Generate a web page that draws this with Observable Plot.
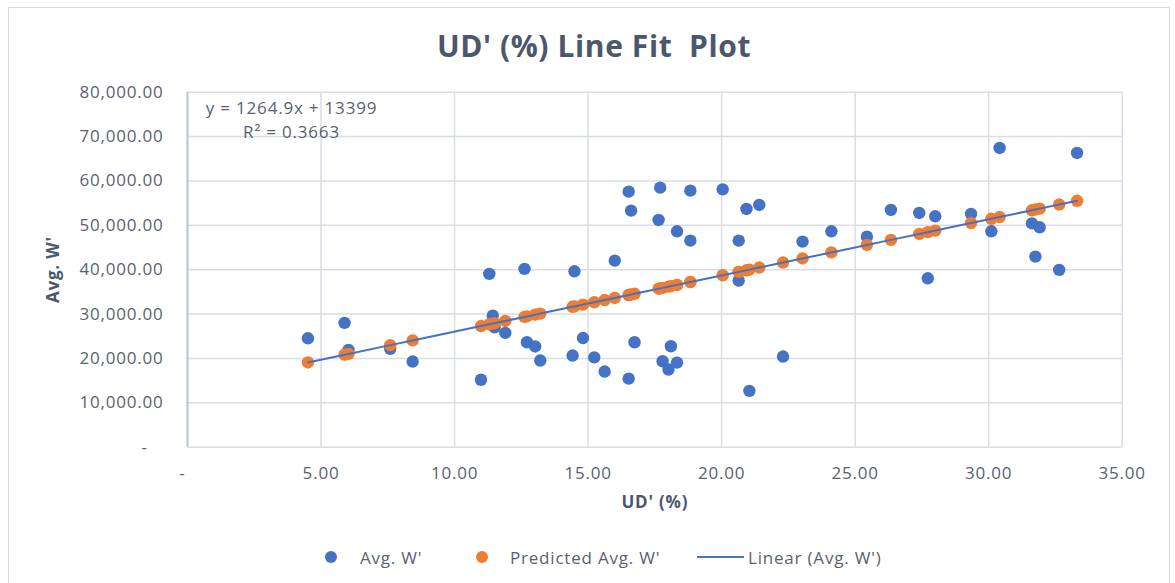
<!DOCTYPE html>
<html>
<head>
<meta charset="utf-8">
<script src="https://cdn.jsdelivr.net/npm/d3@7"></script>
<script src="https://cdn.jsdelivr.net/npm/@observablehq/plot@0.6"></script>
<style>
  html, body { margin: 0; padding: 0; background: #ffffff; }
  #wrap { position: relative; width: 1175px; height: 583px; font-family: "Open Sans", sans-serif; overflow: hidden; }
  #frame { position: absolute; left: 8px; top: 7px; width: 1162px; height: 590px; border: 1px solid #d9d9d9; box-sizing: border-box; }
  #title { position: absolute; left: 0; top: 0; }
  #chart { position: absolute; left: 0; top: 80px; }
  #legend { position: absolute; left: 0; top: 530px; }
</style>
</head>
<body>
<div id="wrap">
  <div id="frame"></div>
  <svg id="title" width="1175" height="80"></svg>
  <div id="chart"></div>
  <svg id="legend" width="1175" height="50"></svg>
</div>
<script>
// ---- data ----
const udPct = [4.51, 5.88, 6.03, 7.59, 8.43, 10.99, 11.30, 11.43, 11.50, 11.90, 12.62, 12.71, 13.02, 13.21, 14.42, 14.49, 14.81, 15.23, 15.62, 16.00, 16.52, 16.52, 16.61, 16.74, 17.64, 17.70, 17.79, 18.01, 18.10, 18.33, 18.33, 18.83, 18.83, 20.04, 20.64, 20.64, 20.93, 21.04, 21.41, 22.30, 23.03, 24.11, 25.44, 26.34, 27.40, 27.72, 28.00, 29.34, 30.10, 30.41, 31.62, 31.75, 31.91, 32.64, 33.31];
const avgW = [24550, 28020, 21940, 22160, 19300, 15200, 39050, 29660, 27030, 25760, 40180, 23650, 22700, 19530, 20650, 39640, 24600, 20250, 17050, 42050, 15450, 57590, 53310, 23650, 51210, 58490, 19370, 17500, 22750, 19050, 48650, 57810, 46550, 58110, 46550, 37540, 53690, 12700, 54590, 20430, 46330, 48650, 47450, 53470, 52790, 38060, 52030, 52570, 48650, 67430, 50450, 42950, 49550, 39950, 66310];
const predictedW = [19104, 20837, 21026, 23000, 24062, 27300, 27692, 27857, 27945, 28451, 29362, 29476, 29868, 30108, 31639, 31727, 32132, 32663, 33157, 33637, 34295, 34295, 34409, 34573, 35712, 35788, 35902, 36180, 36294, 36585, 36585, 37217, 37217, 38748, 39507, 39507, 39873, 40013, 40481, 41606, 42530, 43896, 45578, 46717, 48057, 48462, 48816, 50511, 51472, 51865, 53395, 53560, 53762, 54685, 55533];
const xTicks = [0, 5, 10, 15, 20, 25, 30, 35];
const yTicks = [0, 10000, 20000, 30000, 40000, 50000, 60000, 70000, 80000];
const fitSlope = "1264.9";
const fitIntercept = "13399";
const fitR2 = "0.3663";
const chartTitle = "UD' (%) Line Fit  Plot";
const xTitle = "UD' (%)";
const yTitle = "Avg. W'";
const seriesNames = ["Avg. W'", "Predicted Avg. W'", "Linear (Avg. W')"];

// ---- styling ----
const BLUE = "#4472c4", ORANGE = "#ed7d31";
const TITLE_COLOR = "#4b586b", TICK_COLOR = "#5a6170";
const GRID = "#d9dee6";

const rows = udPct.map((x, i) => ({x, actual: avgW[i], predicted: predictedW[i]}));
const fitRows = rows.slice().sort((a, b) => a.x - b.x);

const fmtY = v => v === 0 ? "-\u00a0\u00a0\u00a0" : d3.format(",.2f")(v);
const fmtX = v => v === 0 ? "-\u00a0\u00a0" : d3.format(".2f")(v);

const chart = Plot.plot({
  width: 1175,
  height: 440,
  marginLeft: 187,
  marginRight: 53.3,
  marginTop: 11.7,
  marginBottom: 73.3,
  style: {fontFamily: '"Open Sans", sans-serif', fontSize: "17px", color: TICK_COLOR, background: "transparent", letterSpacing: "0.8px"},
  x: {domain: [0, 35]},
  y: {domain: [0, 80000]},
  marks: [
    Plot.gridX(xTicks.filter(v => v > 0), {stroke: GRID, strokeOpacity: 1, strokeWidth: 1.5}),
    Plot.gridY(yTicks, {stroke: GRID, strokeOpacity: 1, strokeWidth: 1.5}),
    Plot.ruleX([0], {stroke: "#b9c4d4", strokeWidth: 2}),
    Plot.axisX(xTicks, {tickSize: 0, tickPadding: 20, tickFormat: fmtX, label: null, fill: TICK_COLOR}),
    Plot.axisY(yTicks, {tickSize: 0, tickPadding: 24, tickFormat: fmtY, label: null, fill: TICK_COLOR}),
    Plot.dot(rows, {x: "x", y: "actual", r: 6.2, fill: BLUE}),
    Plot.dot(rows, {x: "x", y: "predicted", r: 6.2, fill: ORANGE}),
    Plot.line(fitRows, {x: "x", y: "predicted", stroke: BLUE, strokeWidth: 2}),
    Plot.text([`y = ${fitSlope}x + ${fitIntercept}`], {frameAnchor: "top-left", dx: 104, dy: 16, textAnchor: "middle", lineAnchor: "middle", fill: TICK_COLOR, fontSize: 17}),
    Plot.text([`R\u00b2 = ${fitR2}`], {frameAnchor: "top-left", dx: 104, dy: 40, textAnchor: "middle", lineAnchor: "middle", fill: TICK_COLOR, fontSize: 17}),
    Plot.text([xTitle], {frameAnchor: "bottom", dy: 55, textAnchor: "middle", lineAnchor: "middle", fill: TITLE_COLOR, fontSize: 17, fontWeight: "bold"}),
    Plot.text([yTitle], {frameAnchor: "left", dx: -134, rotate: -90, textAnchor: "middle", lineAnchor: "middle", fill: TITLE_COLOR, fontSize: 17, fontWeight: "bold"})
  ]
});
document.getElementById("chart").appendChild(chart);

// ---- title ----
d3.select("#title").append("text")
  .attr("x", 594).attr("y", 56.5)
  .attr("text-anchor", "middle")
  .style("font-family", '"Open Sans", sans-serif')
  .style("font-size", "30px").style("font-weight", "bold")
  .style("letter-spacing", "0.6px")
  .style("white-space", "pre")
  .attr("fill", TITLE_COLOR)
  .text(chartTitle.replace(/ {2}/g, " \u00a0"));

// ---- legend ----
const leg = d3.select("#legend");
const legY = 27;
const legFont = g => g.style("font-family", '"Open Sans", sans-serif').style("font-size", "17px").style("letter-spacing", "0.8px").attr("fill", TICK_COLOR).attr("dominant-baseline", "central");
leg.append("circle").attr("cx", 331).attr("cy", legY).attr("r", 6).attr("fill", BLUE);
leg.append("text").attr("x", 360).attr("y", legY).call(legFont).text(seriesNames[0]);
leg.append("circle").attr("cx", 482).attr("cy", legY).attr("r", 6).attr("fill", ORANGE);
leg.append("text").attr("x", 510).attr("y", legY).call(legFont).text(seriesNames[1]);
leg.append("line").attr("x1", 697).attr("x2", 744).attr("y1", legY).attr("y2", legY).attr("stroke", BLUE).attr("stroke-width", 2);
leg.append("text").attr("x", 748).attr("y", legY).call(legFont).text(seriesNames[2]);
</script>
</body>
</html>
